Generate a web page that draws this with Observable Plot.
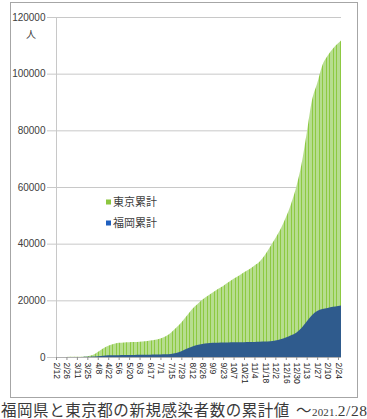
<!DOCTYPE html>
<html><head><meta charset="utf-8">
<script src="https://cdn.jsdelivr.net/npm/d3@7"></script>
<script src="https://cdn.jsdelivr.net/npm/@observablehq/plot@0.6"></script>
<style>
body{margin:0;background:#fff;width:367px;height:419px;overflow:hidden;position:relative;font-family:"Liberation Sans",sans-serif}
#frame{position:absolute;left:10px;top:2px;width:346px;height:394px;border:1px solid #a6a6a6;}
#chart{position:absolute;left:0;top:0}
#cap{position:absolute;left:1px;top:398px;white-space:nowrap;font-family:"Liberation Serif","Noto Sans CJK JP",serif;font-size:15.5px;color:#3a3a3a;letter-spacing:0.55px}
#cap .s{font-size:11px;letter-spacing:0.2px}
#cap .w{margin-left:6px}
</style></head><body>
<div id="frame"></div>
<div id="chart"></div>
<div id="cap">福岡県と東京都の新規感染者数の累計値<span class="w">～</span><span class="s">2021.</span>2/28</div>
<script>
const dates = ["2020-02-12","2020-02-19","2020-02-26","2020-03-04","2020-03-11","2020-03-18","2020-03-25","2020-04-01","2020-04-08","2020-04-15","2020-04-22","2020-04-29","2020-05-06","2020-05-13","2020-05-20","2020-05-27","2020-06-03","2020-06-10","2020-06-17","2020-06-24","2020-07-01","2020-07-08","2020-07-15","2020-07-22","2020-07-29","2020-08-05","2020-08-12","2020-08-19","2020-08-26","2020-09-02","2020-09-09","2020-09-16","2020-09-23","2020-09-30","2020-10-07","2020-10-14","2020-10-21","2020-10-28","2020-11-04","2020-11-11","2020-11-18","2020-11-25","2020-12-02","2020-12-09","2020-12-16","2020-12-23","2020-12-30","2021-01-06","2021-01-13","2021-01-20","2021-01-27","2021-02-03","2021-02-10","2021-02-17","2021-02-24","2021-02-28"];
const tokyo = [10,20,30,50,70,120,250,700,1800,3000,4000,4600,5000,5150,5250,5300,5400,5550,5800,6100,6500,7300,8600,10300,12200,14500,16800,18500,20200,21500,22800,24000,25100,26400,27600,28700,29900,31000,32300,33700,36000,38900,41900,45200,49200,54000,60000,68000,79000,90500,96500,103000,106300,108800,110700,111700];
const fukuoka = [0,0,10,20,30,40,60,150,300,450,580,630,660,670,680,720,780,800,820,850,880,950,1100,1400,2000,2900,3600,4200,4600,4850,5000,5050,5100,5130,5170,5200,5250,5290,5330,5380,5450,5600,5850,6300,6900,7700,8600,10200,12500,14700,16200,16900,17300,17700,18000,18200];
const tickDates = ["2020-02-12","2020-02-26","2020-03-11","2020-03-25","2020-04-08","2020-04-22","2020-05-06","2020-05-20","2020-06-03","2020-06-17","2020-07-01","2020-07-15","2020-07-29","2020-08-12","2020-08-26","2020-09-09","2020-09-23","2020-10-07","2020-10-21","2020-11-04","2020-11-18","2020-12-02","2020-12-16","2020-12-30","2021-01-13","2021-01-27","2021-02-10","2021-02-24"];
const yTicks = [0,20000,40000,60000,80000,100000,120000];
const legendNames = ["東京累計","福岡累計"];
const legendColors = ["#8cc63f","#1f5fbf"];

const parse = d3.utcParse("%Y-%m-%d");
const tData = dates.map((d,i)=>({date: parse(d), v: tokyo[i]}));
const fData = dates.map((d,i)=>({date: parse(d), v: fukuoka[i]}));

const plot = Plot.plot({
  width: 367, height: 398,
  marginLeft: 56, marginRight: 26, marginTop: 17, marginBottom: 41,
  style: {fontFamily: "Liberation Sans, sans-serif", fontSize: "10px", color: "#404040", background: "transparent"},
  x: {type: "utc", domain: [parse("2020-02-12"), parse("2021-02-28")]},
  y: {domain: [0, 120000]},
  marks: [
    Plot.ruleY(yTicks, {stroke: "#c8c8c8", insetLeft: -9}),
    Plot.frame({anchor: "left", stroke: "#c8c8c8"}),
    Plot.areaY(tData, {x: "date", y: "v", fill: "url(#tkstripes)", curve: "monotone-x"}),
    Plot.areaY(fData, {x: "date", y: "v", fill: "#2f5b8d", curve: "monotone-x"}),
    Plot.ruleY([0], {stroke: "#b0b0b0"}),
    Plot.axisY({ticks: yTicks, tickSize: 0, tickPadding: 11, tickFormat: d => String(d), label: null, fontSize: 10}),
    Plot.axisX({ticks: tickDates.map(parse), tickFormat: d3.utcFormat("%-m/%-d"), tickRotate: 90, tickSize: 3, tickPadding: 2, label: null, fontSize: 8.5, stroke: "#909090", fill: "#222"})
  ]
});

const svg = d3.select(plot);
svg.insert("defs", ":first-child").html(
  '<pattern id="tkstripes" patternUnits="userSpaceOnUse" width="7" height="10">' +
  '<rect width="7" height="10" fill="#b6dd8f"/>' +
  '<rect x="0" width="1" height="10" fill="#8dc942"/>' +
  '<rect x="4" width="1" height="10" fill="#8dc942"/></pattern>');
svg.append("text").attr("x", 31).attr("y", 38).attr("text-anchor", "middle")
  .style("font-family", "Noto Sans CJK JP").style("font-size", "10px").attr("fill", "#404040").text("人");
const lg = svg.append("g").attr("text-anchor", "start").style("font-family", "Noto Sans CJK JP").style("font-size", "11px");
legendNames.forEach((n, i) => {
  const yy = 202 + i * 21;
  lg.append("rect").attr("x", 106).attr("y", yy - 2.5).attr("width", 5).attr("height", 5).style("fill", legendColors[i]);
  lg.append("text").attr("x", 113).attr("y", yy).attr("dy", "0.36em").style("fill", "#404040").text(n);
});
document.getElementById("chart").appendChild(plot);
</script>
</body></html>
